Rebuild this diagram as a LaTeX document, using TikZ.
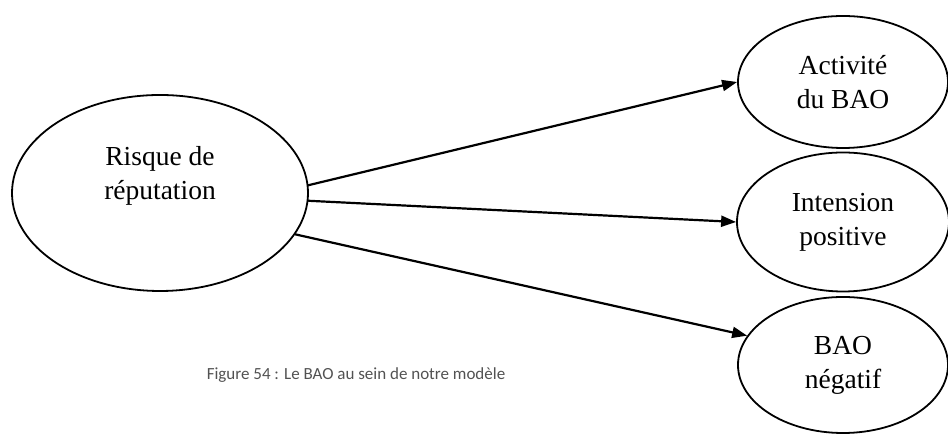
\documentclass[tikz,border=0pt]{standalone}
\usepackage{fontspec}
\setmainfont{Liberation Serif}
\newfontfamily\capfont{Carlito}
\usetikzlibrary{arrows.meta,shapes.geometric}

\begin{document}
\begin{tikzpicture}[x=1pt,y=1pt,line cap=round,line join=round,
  bubble/.style={ellipse,draw=black,line width=1.8pt,inner sep=0pt,align=center,font=\fontsize{27.5}{34}\selectfont},
  bubtext/.style={align=center,inner sep=0pt,font=\fontsize{27.5}{34}\selectfont},
  link/.style={-{Triangle[length=15pt,width=11pt]},line width=2.2pt}]
\useasboundingbox (0,0) rectangle (948,435);
% left cause
\node[bubble,minimum width=296pt,minimum height=196pt] (risk) at (160,242) {};
\node[bubtext] (risktxt) at (160,259) {Risque de\\réputation};
% right effects
\node[bubble,minimum width=210pt,minimum height=132pt] (act) at (843,353) {Activité\\du BAO};
\node[bubble,minimum width=212pt,minimum height=139pt] (int) at (843,213) {Intension\\positive};
\node[bubble,minimum width=210pt,minimum height=136pt] (neg) at (843,70) {BAO\\négatif};
% links
\draw[link] (risk.3.5) -- (act.west);
\draw[link] (risk.-3.9) -- (int.west);
\draw[link] (risk.-17.7) -- (neg.163);
% caption
\node[font=\capfont\fontsize{17}{20}\selectfont,text=black!68] (cap) at (356,60) {Figure 54 : Le BAO au sein de notre modèle};
\end{tikzpicture}
\end{document}
